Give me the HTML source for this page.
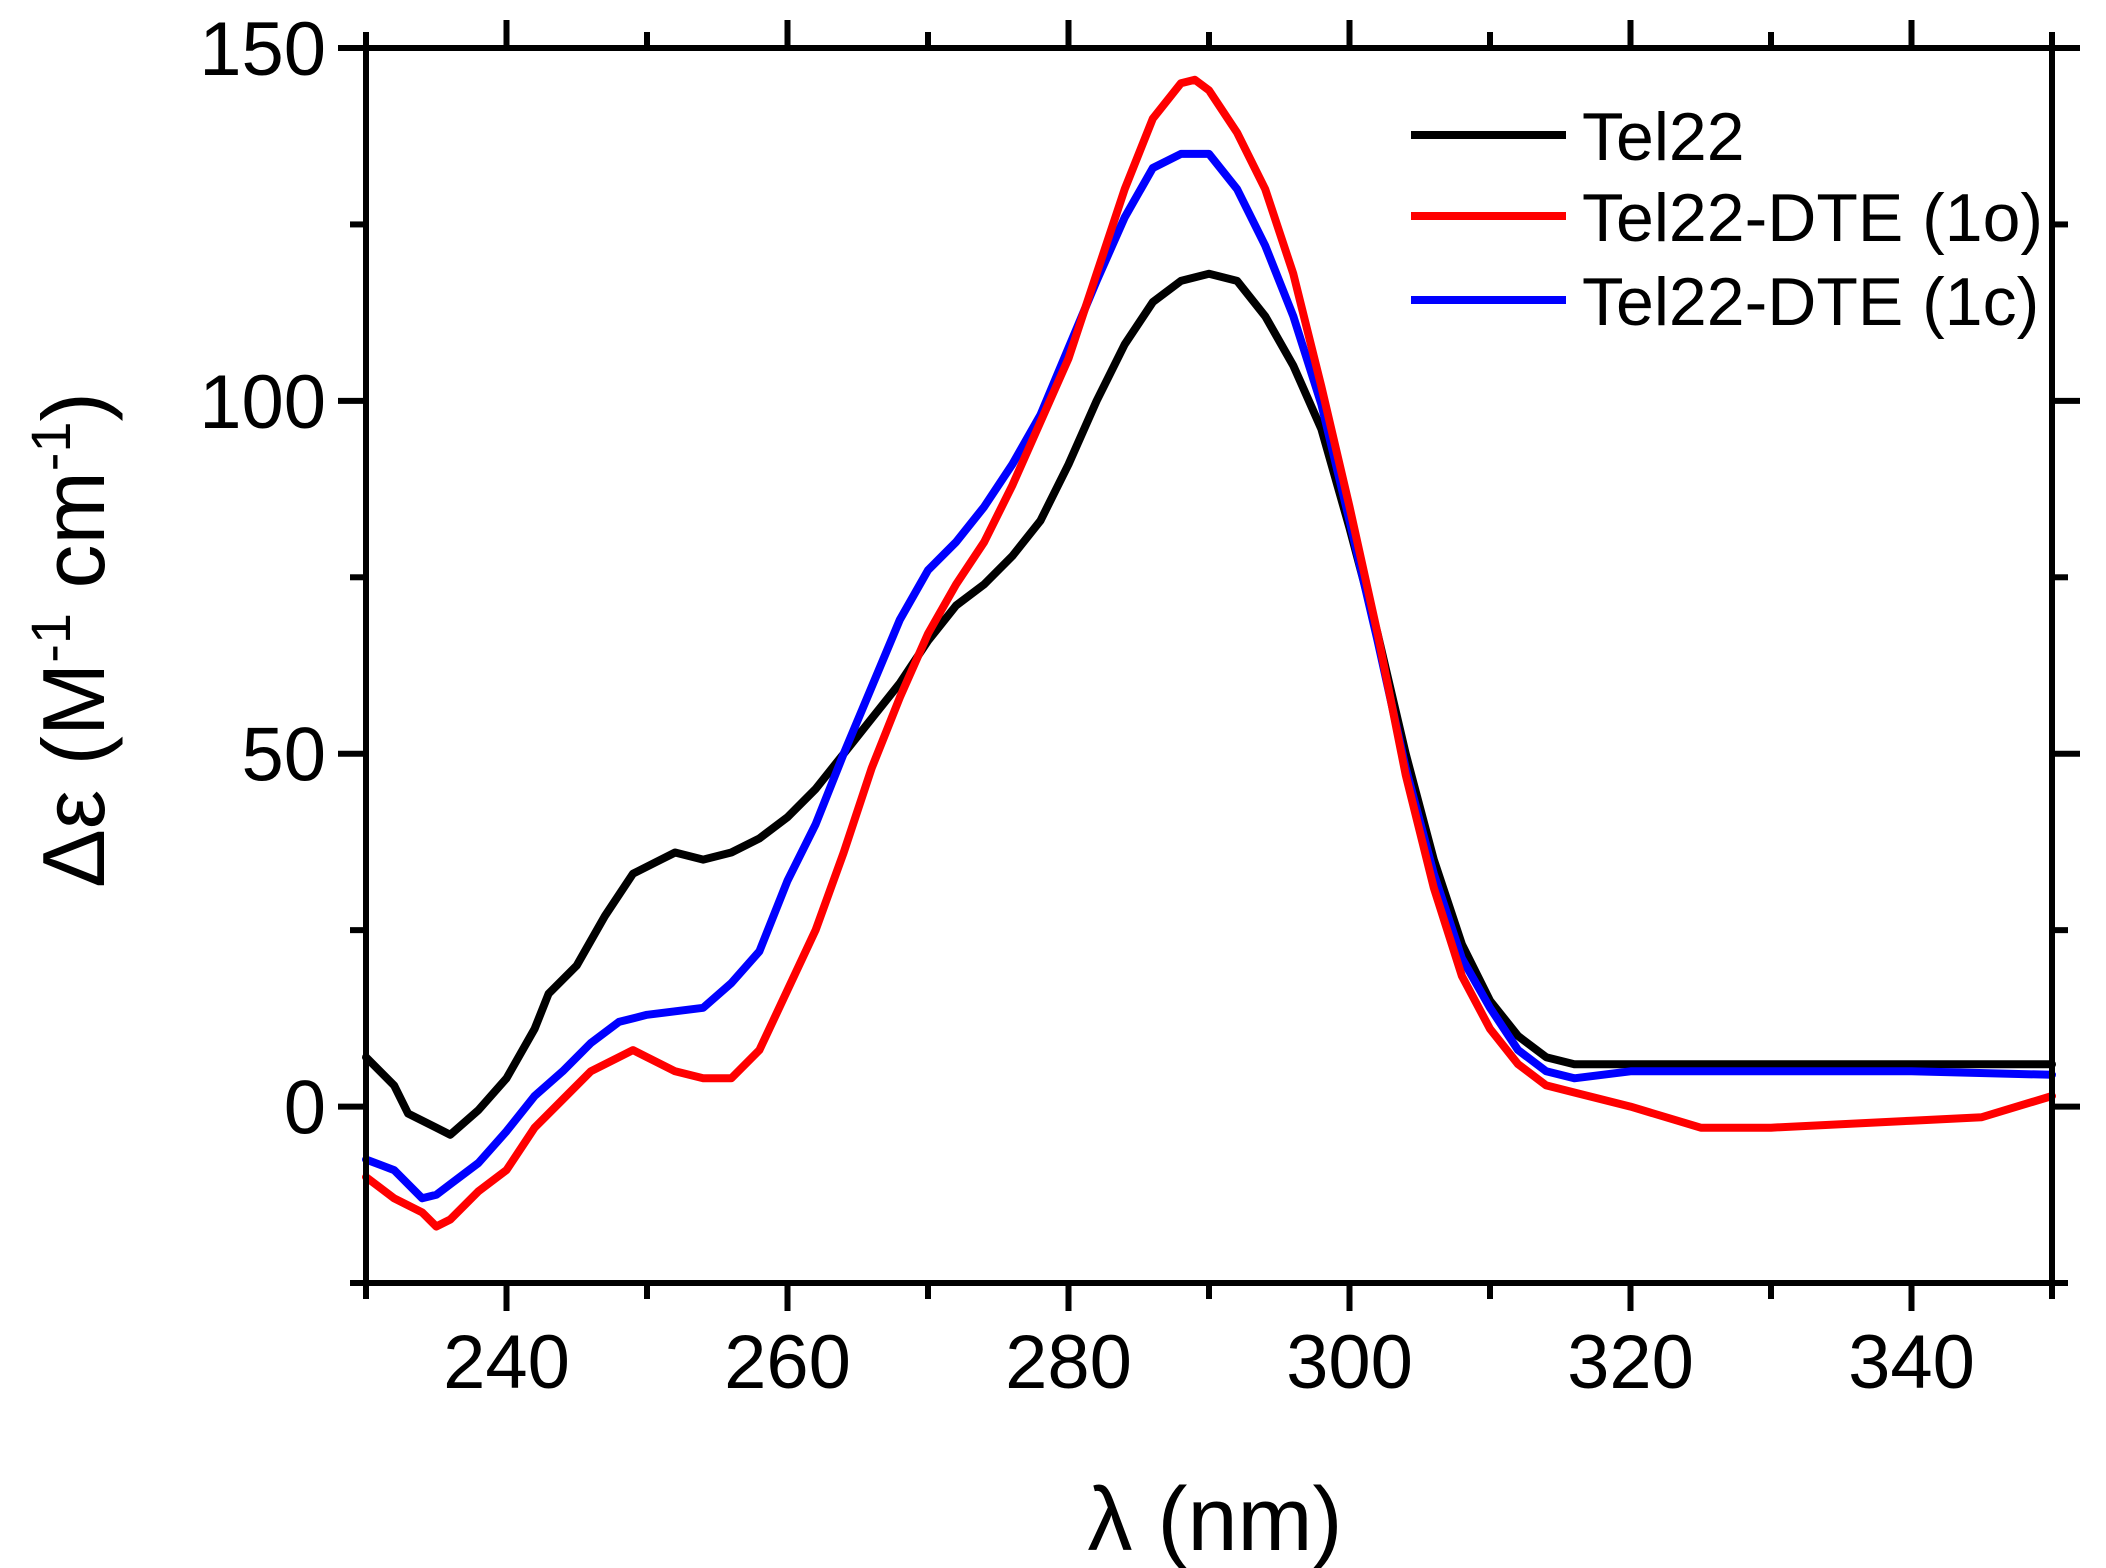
<!DOCTYPE html>
<html><head><meta charset="utf-8"><style>
html,body{margin:0;padding:0;background:#fff;}
svg{display:block;font-family:"Liberation Sans",Arial,sans-serif;}
</style></head><body>
<svg id="chart" width="2106" height="1568" viewBox="0 0 2106 1568" xmlns="http://www.w3.org/2000/svg"></svg>
<script>
const xTicks = [240, 260, 280, 300, 320, 340];
const yTicks = [0, 50, 100, 150];
const seriesNames = ["Tel22", "Tel22-DTE (1o)", "Tel22-DTE (1c)"];
const seriesColors = ["#000000", "#ff0000", "#0000ff"];
const tel22X = [230,232,233,235,236,238,240,242,243,245,247,249,251,252,254,256,258,260,262,264,266,268,270,272,274,276,278,280,282,284,286,288,290,292,294,296,298,300,302,304,306,308,310,312,314,316,320,330,340,350];
const tel22Y = [7,3,-1,-3,-4,-0.5,4,11,16,20,27,33,35,36,35,36,38,41,45,50,55,60,66,71,74,78,83,91,100,108,114,117,118,117,112,105,96,82,67,50,35,23,15,10,7,6,6,6,6,6];
const openX = [230,232,234,235,236,238,240,242,244,246,248,249,250,252,254,256,258,260,262,264,266,268,270,272,274,276,278,280,282,284,286,288,289,290,292,294,296,298,300,302,304,306,308,310,312,314,316,320,325,330,340,345,350];
const openY = [-10,-13,-15,-17,-16,-12,-9,-3,1,5,7,8,7,5,4,4,8,16.5,25,36,48,58,67,74,80,88,97,106,118,130,140,145,145.5,144,138,130,118,102,85,67,47,31,18.5,11,6,3,2,0,-3,-3,-2,-1.5,1.5];
const closedX = [230,232,234,235,236,238,240,242,244,246,248,250,252,254,256,258,260,262,264,266,268,270,272,274,276,278,280,282,284,286,288,290,292,294,296,298,300,302,304,306,308,310,312,314,316,320,330,340,350];
const closedY = [-7.5,-9,-13,-12.5,-11,-8,-3.5,1.5,5,9,12,13,13.5,14,17.5,22,32,40,50,59.5,69,76,80,85,91,98,107.5,117,126,133,135,135,130,122,112,99.5,83,66,48,33,21,14,8,5,4,5,5,5,4.5];

const L=366,R=2052,T=48,B=1283,X0=230,X1=350,Y0=-25,Y1=150;
const sx=v=>L+(v-X0)/(X1-X0)*(R-L);
const sy=v=>B-(v-Y0)/(Y1-Y0)*(B-T);
const svg=document.getElementById('chart');
const NS="http://www.w3.org/2000/svg";
function mk(tag,attrs,parent){const e=document.createElementNS(NS,tag);for(const k in attrs)e.setAttribute(k,attrs[k]);(parent||svg).appendChild(e);return e;}

const data=[[tel22X,tel22Y],[openX,openY],[closedX,closedY]];
const names=["series-tel22","series-tel22-dte-1o","series-tel22-dte-1c"];
const order=[0,2,1];
order.forEach(i=>{
  const pts=data[i][0].map((x,j)=>sx(x).toFixed(1)+","+sy(data[i][1][j]).toFixed(1)).join(" ");
  const p=mk('polyline',{points:pts,fill:'none',stroke:seriesColors[i],'stroke-width':8,'stroke-linejoin':'round','stroke-linecap':'round'});
  
  
});

const frame=mk('rect',{x:L,y:T,width:R-L,height:B-T,fill:'none',stroke:'#000','stroke-width':6});



for(let v=230;v<=350;v+=10){
  const major=xTicks.includes(v);const len=major?28:16;const x=sx(v);
  const t1=mk('line',{x1:x,y1:B,x2:x,y2:B+len,stroke:'#000','stroke-width':6});
  
  
  const t2=mk('line',{x1:x,y1:T,x2:x,y2:T-len,stroke:'#000','stroke-width':6});
  
  
}
xTicks.forEach(v=>{
  const t=mk('text',{x:sx(v),y:1388,'font-size':76,'text-anchor':'middle',fill:'#000'});
  t.textContent=v;
  
  
});
for(let v=-25;v<=150;v+=25){
  const major=yTicks.includes(v);const len=major?28:16;const y=sy(v);
  const t1=mk('line',{x1:L,y1:y,x2:L-len,y2:y,stroke:'#000','stroke-width':6});
  
  
  const t2=mk('line',{x1:R,y1:y,x2:R+len,y2:y,stroke:'#000','stroke-width':6});
  
  
}
yTicks.forEach(v=>{
  const t=mk('text',{x:326,y:sy(v)+27,'font-size':76,'text-anchor':'end',fill:'#000'});
  t.textContent=v;
  
  
});
const xt=mk('text',{x:1215,y:1550,'font-size':90,'text-anchor':'middle',fill:'#000'});
xt.textContent="λ (nm)";


const yt=mk('text',{x:0,y:0,'font-size':88,'text-anchor':'middle',fill:'#000',transform:'translate(104,640) rotate(-90)'});
yt.innerHTML='Δε (M<tspan dy="-34" font-size="56">-1</tspan><tspan dy="34"> cm</tspan><tspan dy="-34" font-size="56">-1</tspan><tspan dy="34">)</tspan>';



const legY=[135,216,300];
seriesNames.forEach((n,i)=>{
  const g=mk('g',{});
  
  
  mk('line',{x1:1411,y1:legY[i],x2:1566,y2:legY[i],stroke:seriesColors[i],'stroke-width':8},g);
  const t=mk('text',{x:1582,y:legY[i]+25,'font-size':68,fill:'#000'},g);
  t.textContent=n;
});
</script>
</body></html>
